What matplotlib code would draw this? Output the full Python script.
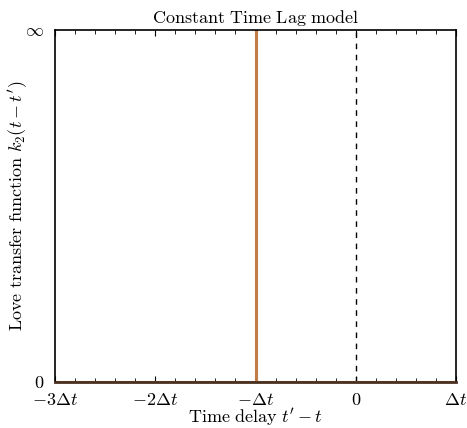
import numpy as np
import matplotlib
matplotlib.use("Agg")
import matplotlib.pyplot as plt
from matplotlib.ticker import MultipleLocator

plt.rcParams['font.family'] = 'serif'
plt.rcParams['font.serif'] = ['cmr10', 'DejaVu Serif']
plt.rcParams['mathtext.fontset'] = 'cm'
plt.rcParams['axes.unicode_minus'] = False

# time delay in units of dt, response (1 = infinity at top)
delay = [-3.0, -1.0, -1.0, -1.0, 1.0]
response = [0.0, 0.0, 1.0, 0.0, 0.0]
xticks = [-3, -2, -1, 0, 1]
xlabels = [r'$-3\Delta t$', r'$-2\Delta t$', r'$-\Delta t$', r'$0$', r'$\Delta t$']
yticks = [0, 1]
ylabels = [r'$0$', r'$\infty$']

fig = plt.figure(figsize=(4.67, 4.28), dpi=100)
ax = fig.add_axes([55 / 467, 1 - 382 / 428, 401 / 467, 352 / 428])

ax.plot(delay, response, color='#c07d48', lw=2.2, zorder=2)
ax.axvline(0, color='black', ls=(0, (4, 4)), lw=1, zorder=1)

ax.set_xlim(-3, 1)
ax.set_ylim(0, 1)
ax.set_xticks(xticks)
ax.set_xticklabels(xlabels, fontsize=13)
ax.set_yticks(yticks)
ax.set_yticklabels(ylabels, fontsize=13)
ax.xaxis.set_minor_locator(MultipleLocator(0.2))
ax.tick_params(which='both', direction='in', top=True, right=False, left=False)
ax.tick_params(which='major', length=4, pad=7)
ax.tick_params(which='minor', length=3)
ax.tick_params(axis='y', length=0, pad=8)
for s in ax.spines.values():
    s.set_linewidth(1.2)
    s.set_zorder(3)
ax.spines['bottom'].set_color('#4a3020')
ax.spines['bottom'].set_linewidth(2)

ax.set_xlabel(r"$\mathrm{Time\ delay}\ t' - t$", fontsize=13, labelpad=-1)
ax.set_ylabel(r"$\mathrm{Love\ transfer\ function}\ k_2(t - t')$", fontsize=13, labelpad=-4)
ax.set_title(r"$\mathrm{Constant\ Time\ Lag\ model}$", fontsize=13, pad=5)

fig.savefig('out.png', dpi=100)
